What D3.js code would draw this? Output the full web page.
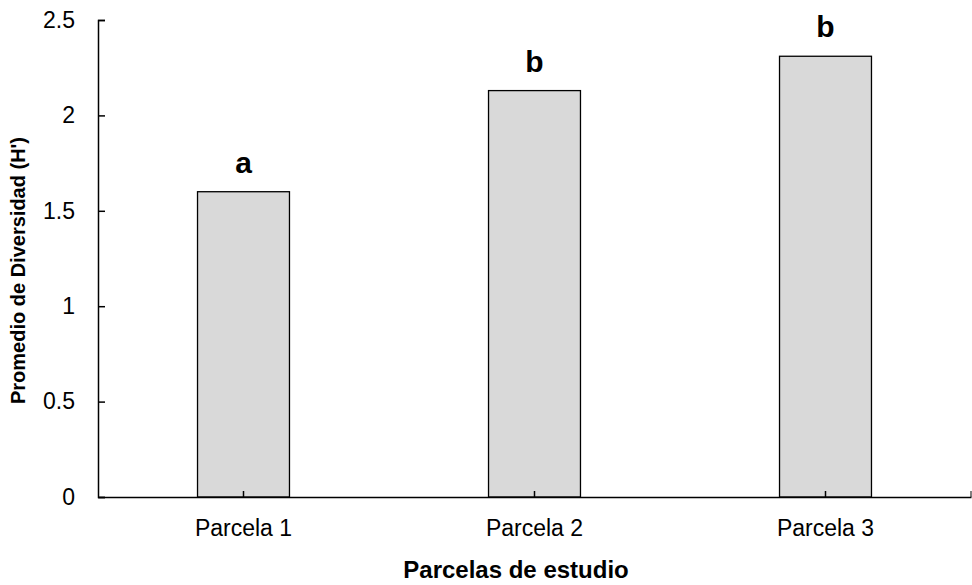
<!DOCTYPE html>
<html>
<head>
<meta charset="utf-8">
<script src="https://cdn.jsdelivr.net/npm/d3@7"></script>
<style>
  body { margin: 0; background: #fff; }
  text { font-family: "Liberation Sans", Arial, sans-serif; fill: #000; }
</style>
</head>
<body>
<div id="chart"></div>
<script>
// chart data
var parcelas = ['Parcela 1', 'Parcela 2', 'Parcela 3'];
var diversidad = [1.6, 2.13, 2.31];
var letras = ['a', 'b', 'b'];
var yTicks = [0, 0.5, 1, 1.5, 2, 2.5];

// fixed size graph
var width = 972, height = 585;
var margin = {top: 20, right: 1, bottom: 88, left: 98};
var innerW = width - margin.left - margin.right;
var innerH = height - margin.top - margin.bottom;

var svg = d3.select('#chart')
  .append('svg')
  .attr('width', width)
  .attr('height', height);

var g = svg.append('g')
  .attr('transform', 'translate(' + margin.left + ',' + margin.top + ')');

// scales
var x = d3.scaleBand().domain(parcelas).range([0, innerW])
  .paddingInner(0.684).paddingOuter(0.342);
var y = d3.scaleLinear().domain([0, 2.5]).range([innerH, 0]);

// bars
g.selectAll('rect.bar')
  .data(parcelas)
  .enter().append('rect')
  .attr('class', 'bar')
  .attr('x', function(d) { return x(d); })
  .attr('y', function(d, i) { return y(diversidad[i]); })
  .attr('width', x.bandwidth())
  .attr('height', function(d, i) { return innerH - y(diversidad[i]); })
  .attr('fill', '#d9d9d9')
  .attr('stroke', '#000')
  .attr('stroke-width', 1.3);

// significance letters
g.selectAll('text.letra')
  .data(parcelas)
  .enter().append('text')
  .attr('class', 'letra')
  .attr('x', function(d) { return x(d) + x.bandwidth() / 2; })
  .attr('y', function(d, i) { return y(diversidad[i]) - 19; })
  .attr('text-anchor', 'middle')
  .style('font-size', '30px')
  .style('font-weight', 'bold')
  .text(function(d, i) { return letras[i]; });

// y axis, ticks point inward
var yAxis = g.append('g')
  .call(d3.axisLeft(y).tickValues(yTicks).tickSize(-7).tickPadding(23)
    .tickFormat(function(d) { return d; }));
yAxis.selectAll('text').style('font-size', '23px');

// x axis, ticks at category centres pointing up
var xAxis = g.append('g')
  .attr('transform', 'translate(0,' + innerH + ')')
  .call(d3.axisBottom(x).tickSize(-6).tickSizeOuter(0).tickPadding(23));
xAxis.selectAll('text').style('font-size', '23px');

// end tick on the right of the x axis
xAxis.append('line')
  .attr('x1', x.range()[1]).attr('x2', x.range()[1])
  .attr('y1', 0).attr('y2', -6)
  .attr('stroke', '#000');

svg.selectAll('.domain, .tick line')
  .attr('stroke', '#000')
  .attr('stroke-width', 1.5);

// axis titles
svg.append('text')
  .attr('x', 516)
  .attr('y', 578)
  .attr('text-anchor', 'middle')
  .style('font-size', '24px')
  .style('font-weight', 'bold')
  .text('Parcelas de estudio');

svg.append('text')
  .attr('transform', 'translate(25,' + (margin.top + innerH / 2 + 12) + ') rotate(-90)')
  .attr('text-anchor', 'middle')
  .style('font-size', '20px')
  .style('font-weight', 'bold')
  .text("Promedio de Diversidad (H')");
</script>
</body>
</html>
